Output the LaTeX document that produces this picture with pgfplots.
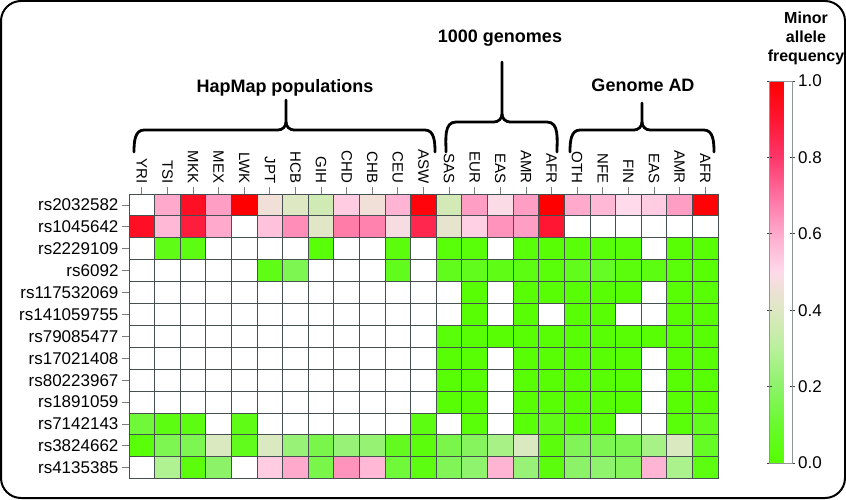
\documentclass[border=0pt]{standalone}
\usepackage{fontspec}
\setmainfont{Liberation Sans}
\usepackage{pgfplots}
\pgfplotsset{compat=1.18}
\usepackage{pgfplotstable}
\definecolor{gridc}{RGB}{70,80,80}
\definecolor{tickc}{RGB}{120,125,125}

% c = column (population), r = row (SNP), v = minor allele frequency; missing cells are omitted (white)
\pgfplotstableread{
c r v
1 0 0.60
2 0 0.93
3 0 0.62
4 0 1.00
5 0 0.46
6 0 0.40
7 0 0.36
8 0 0.53
9 0 0.46
10 0 0.58
11 0 0.98
12 0 0.37
13 0 0.62
14 0 0.49
15 0 0.62
16 0 1.00
17 0 0.60
18 0 0.57
19 0 0.50
20 0 0.53
21 0 0.62
22 0 0.99
0 1 0.93
1 1 0.57
2 1 0.88
3 1 0.60
5 1 0.55
6 1 0.65
7 1 0.41
8 1 0.68
9 1 0.67
10 1 0.48
11 1 0.85
12 1 0.43
13 1 0.52
14 1 0.64
15 1 0.62
16 1 0.90
1 2 0.05
2 2 0.04
7 2 0.02
10 2 0.03
12 2 0.02
13 2 0.02
15 2 0.02
16 2 0.01
17 2 0.02
18 2 0.02
19 2 0.02
21 2 0.01
22 2 0.01
5 3 0.05
6 3 0.16
10 3 0.06
12 3 0.06
13 3 0.06
14 3 0.05
15 3 0.04
16 3 0.02
17 3 0.06
18 3 0.08
19 3 0.03
20 3 0.04
21 3 0.02
22 3 0.01
13 4 0.01
15 4 0.01
16 4 0.01
17 4 0.01
18 4 0.01
19 4 0.01
21 4 0.01
22 4 0.01
13 5 0.01
15 5 0.01
17 5 0.01
18 5 0.01
21 5 0.01
22 5 0.01
12 6 0.02
13 6 0.01
14 6 0.01
15 6 0.01
16 6 0.01
17 6 0.01
18 6 0.01
19 6 0.01
20 6 0.01
21 6 0.01
22 6 0.01
12 7 0.01
13 7 0.01
15 7 0.01
16 7 0.01
17 7 0.01
18 7 0.01
19 7 0.01
21 7 0.01
22 7 0.01
12 8 0.01
13 8 0.01
15 8 0.01
16 8 0.01
17 8 0.01
18 8 0.01
19 8 0.01
21 8 0.01
22 8 0.01
12 9 0.01
13 9 0.01
15 9 0.01
16 9 0.01
17 9 0.01
18 9 0.01
19 9 0.01
21 9 0.01
22 9 0.01
0 10 0.12
1 10 0.04
2 10 0.04
4 10 0.05
11 10 0.04
13 10 0.02
15 10 0.02
16 10 0.05
17 10 0.02
18 10 0.02
21 10 0.02
22 10 0.06
0 11 0.02
1 11 0.16
2 11 0.16
3 11 0.39
4 11 0.06
5 11 0.39
6 11 0.23
7 11 0.15
8 11 0.23
9 11 0.22
10 11 0.07
11 11 0.03
12 11 0.15
13 11 0.18
14 11 0.26
15 11 0.39
16 11 0.03
17 11 0.17
18 11 0.16
19 11 0.16
20 11 0.26
21 11 0.39
22 11 0.08
1 12 0.28
2 12 0.03
3 12 0.20
5 12 0.53
6 12 0.60
7 12 0.15
8 12 0.64
9 12 0.57
10 12 0.12
11 12 0.04
12 12 0.17
13 12 0.21
14 12 0.58
15 12 0.23
16 12 0.03
17 12 0.20
18 12 0.21
19 12 0.18
20 12 0.58
21 12 0.27
22 12 0.04
}\cells

\begin{document}
\begin{tikzpicture}[x=1pt,y=1pt]
\useasboundingbox (0,0) rectangle (846,499);
\draw[line width=2pt, rounded corners=20pt] (1,1) rectangle (845,498);
\begin{axis}[
  at={(129pt,20.3pt)}, anchor=south west,
  scale only axis, width=589pt, height=284.7pt,
  xmin=-0.5, xmax=22.5, ymin=-0.5, ymax=12.5, y dir=reverse,
  xtick={0,...,22}, ytick={0,...,12},
  xticklabels={YRI,TSI,MKK,MEX,LWK,JPT,HCB,GIH,CHD,CHB,CEU,ASW,SAS,EUR,EAS,AMR,AFR,OTH,NFE,FIN,EAS,AMR,AFR},
  yticklabels={rs2032582,rs1045642,rs2229109,rs6092,rs117532069,rs141059755,rs79085477,rs17021408,rs80223967,rs1891059,rs7142143,rs3824662,rs4135385},
  xtick pos=right, xticklabel pos=right,
  ytick pos=left,
  tick align=outside, major tick length=7pt,
  major tick style={tickc, line width=0.8pt},
  minor xtick={-0.5,0.5,1.5,2.5,3.5,4.5,5.5,6.5,7.5,8.5,9.5,10.5,11.5,12.5,13.5,14.5,15.5,16.5,17.5,18.5,19.5,20.5,21.5,22.5},
  minor ytick={-0.5,0.5,1.5,2.5,3.5,4.5,5.5,6.5,7.5,8.5,9.5,10.5,11.5,12.5},
  minor tick length=0pt,
  xminorgrids=true, yminorgrids=true,
  minor grid style={gridc, line width=0.9pt},
  axis line style={gridc, line width=0.9pt},
  axis on top,
  xticklabel style={rotate=-90, anchor=east, font=\fontsize{15}{15}\selectfont},
  yticklabel style={font=\fontsize{17}{17}\selectfont},
  colormap={mafmap}{rgb255(0cm)=(85,255,0); rgb255(2cm)=(105,250,45); rgb255(4cm)=(140,243,105); rgb255(6cm)=(185,240,155); rgb255(8cm)=(222,232,195); rgb255(9cm)=(236,225,212); rgb255(10cm)=(255,218,234); rgb255(12cm)=(255,170,205); rgb255(14cm)=(255,112,160); rgb255(16cm)=(255,55,105); rgb255(18cm)=(255,22,50); rgb255(20cm)=(255,0,0)},
  point meta min=0, point meta max=1,
  colorbar,
  colorbar style={
    at={(parent axis.north east)}, anchor=north west, xshift=42.5pt, yshift=113pt,
    scale only axis, width=23pt, height=382pt,
    y dir=normal,
    ytick={0,0.2,0.4,0.6,0.8,1},
    yticklabels={0.0,0.2,0.4,0.6,0.8,1.0},
    yticklabel style={font=\fontsize{17}{17}\selectfont},
    tick align=center, major tick length=5pt,
    major tick style={black!75, line width=0.8pt},
    axis line style={gridc!60, line width=0.6pt},
  },
]
\addplot[scatter, only marks, mark=square*, mark size=12.804pt,
  scatter src=explicit,
  scatter/use mapped color={draw=gridc, fill=mapped color},
  mark options={yscale=0.8552, line width=0.9pt}]
  table[x=c, y=r, meta=v] {\cells};
\end{axis}

% group titles
\node[font=\bfseries\fontsize{18}{18}\selectfont] at (285,411) {HapMap populations};
\node[font=\bfseries\fontsize{18}{18}\selectfont] at (500,461) {1000 genomes};
\node[font=\bfseries\fontsize{18}{18}\selectfont] at (643,414) {Genome AD};
\node[font=\bfseries\fontsize{16}{19}\selectfont, align=center] at (806,461) {Minor\\allele\\frequency};

% braces (y = 499 - image y)
\begin{scope}[line width=2.8pt, line cap=round]
% HapMap
\draw (134,347) to[out=90,in=180] (144,369) -- (278,369) to[out=0,in=-90] (286,377) -- (286,399);
\draw (435,347) to[out=90,in=0] (425,369) -- (294,369) to[out=180,in=-90] (286,377);
% 1000 genomes
\draw (446,347) to[out=90,in=180] (456,377) -- (494,377) to[out=0,in=-90] (502,385) -- (502,437);
\draw (557,347) to[out=90,in=0] (547,377) -- (510,377) to[out=180,in=-90] (502,385);
% Genome AD
\draw (570,347) to[out=90,in=180] (580,369) -- (634,369) to[out=0,in=-90] (642,377) -- (642,396);
\draw (714,347) to[out=90,in=0] (704,369) -- (650,369) to[out=180,in=-90] (642,377);
\end{scope}
\end{tikzpicture}
\end{document}
